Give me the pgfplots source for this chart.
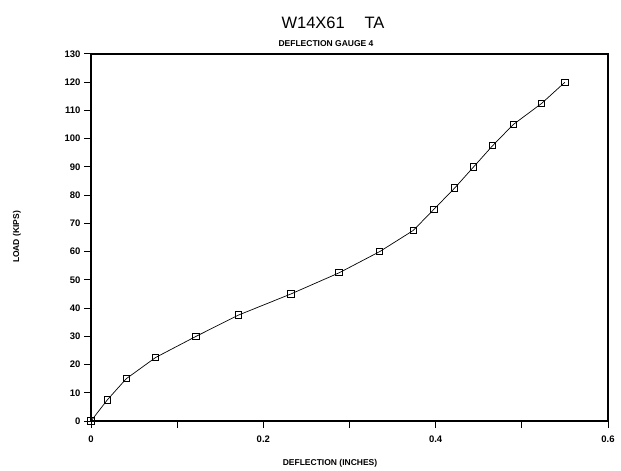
\documentclass[border=0pt]{standalone}
\usepackage{fontspec}
\setmainfont{Liberation Sans}
\usepackage{pgfplots}
\pgfplotsset{compat=1.18}
\begin{document}
\begin{tikzpicture}[x=1pt,y=1pt]
  \path (0,0) rectangle (621,468);
  \begin{axis}[
    at={(91pt,47pt)}, anchor=south west,
    scale only axis, width=517pt, height=367pt,
    xmin=0, xmax=0.6, ymin=0, ymax=130,
    xtick={0,0.2,0.4,0.6}, minor xtick={0.1,0.3,0.5},
    ytick={0,10,...,130},
    xtick pos=bottom, ytick pos=left, tick align=outside,
    major tick length=7pt, minor tick length=7pt,
    axis line style={line width=1.3pt},
    tick style={line width=1pt, black},
    /pgf/number format/assume math mode=true,
    tick label style={font=\bfseries\fontsize{9.5}{11}\selectfont},
    xticklabel style={yshift=-4pt},
    clip=false,
  ]
    \addplot[black, line width=0.7pt, mark=square, mark size=3.2pt,
      mark options={line width=1pt}] coordinates {
      (0,0) (0.019,7.5) (0.041,15) (0.075,22.5) (0.122,30) (0.171,37.5)
      (0.232,45) (0.288,52.5) (0.335,60) (0.374,67.5) (0.398,75)
      (0.422,82.5) (0.444,90) (0.466,97.5) (0.490,105) (0.523,112.5)
      (0.550,120)
    };
  \end{axis}
  \node at (333,445) {\fontsize{16.5}{18}\selectfont W14X61\hspace{1.2em}TA};
  \node at (326,424) {\bfseries\fontsize{8.5}{10}\selectfont DEFLECTION GAUGE 4};
  \node at (330,5) {\bfseries\fontsize{8.5}{10}\selectfont DEFLECTION (INCHES)};
  \node[rotate=90] at (17,231) {\bfseries\fontsize{8.5}{10}\selectfont LOAD (KIPS)};
\end{tikzpicture}
\end{document}
